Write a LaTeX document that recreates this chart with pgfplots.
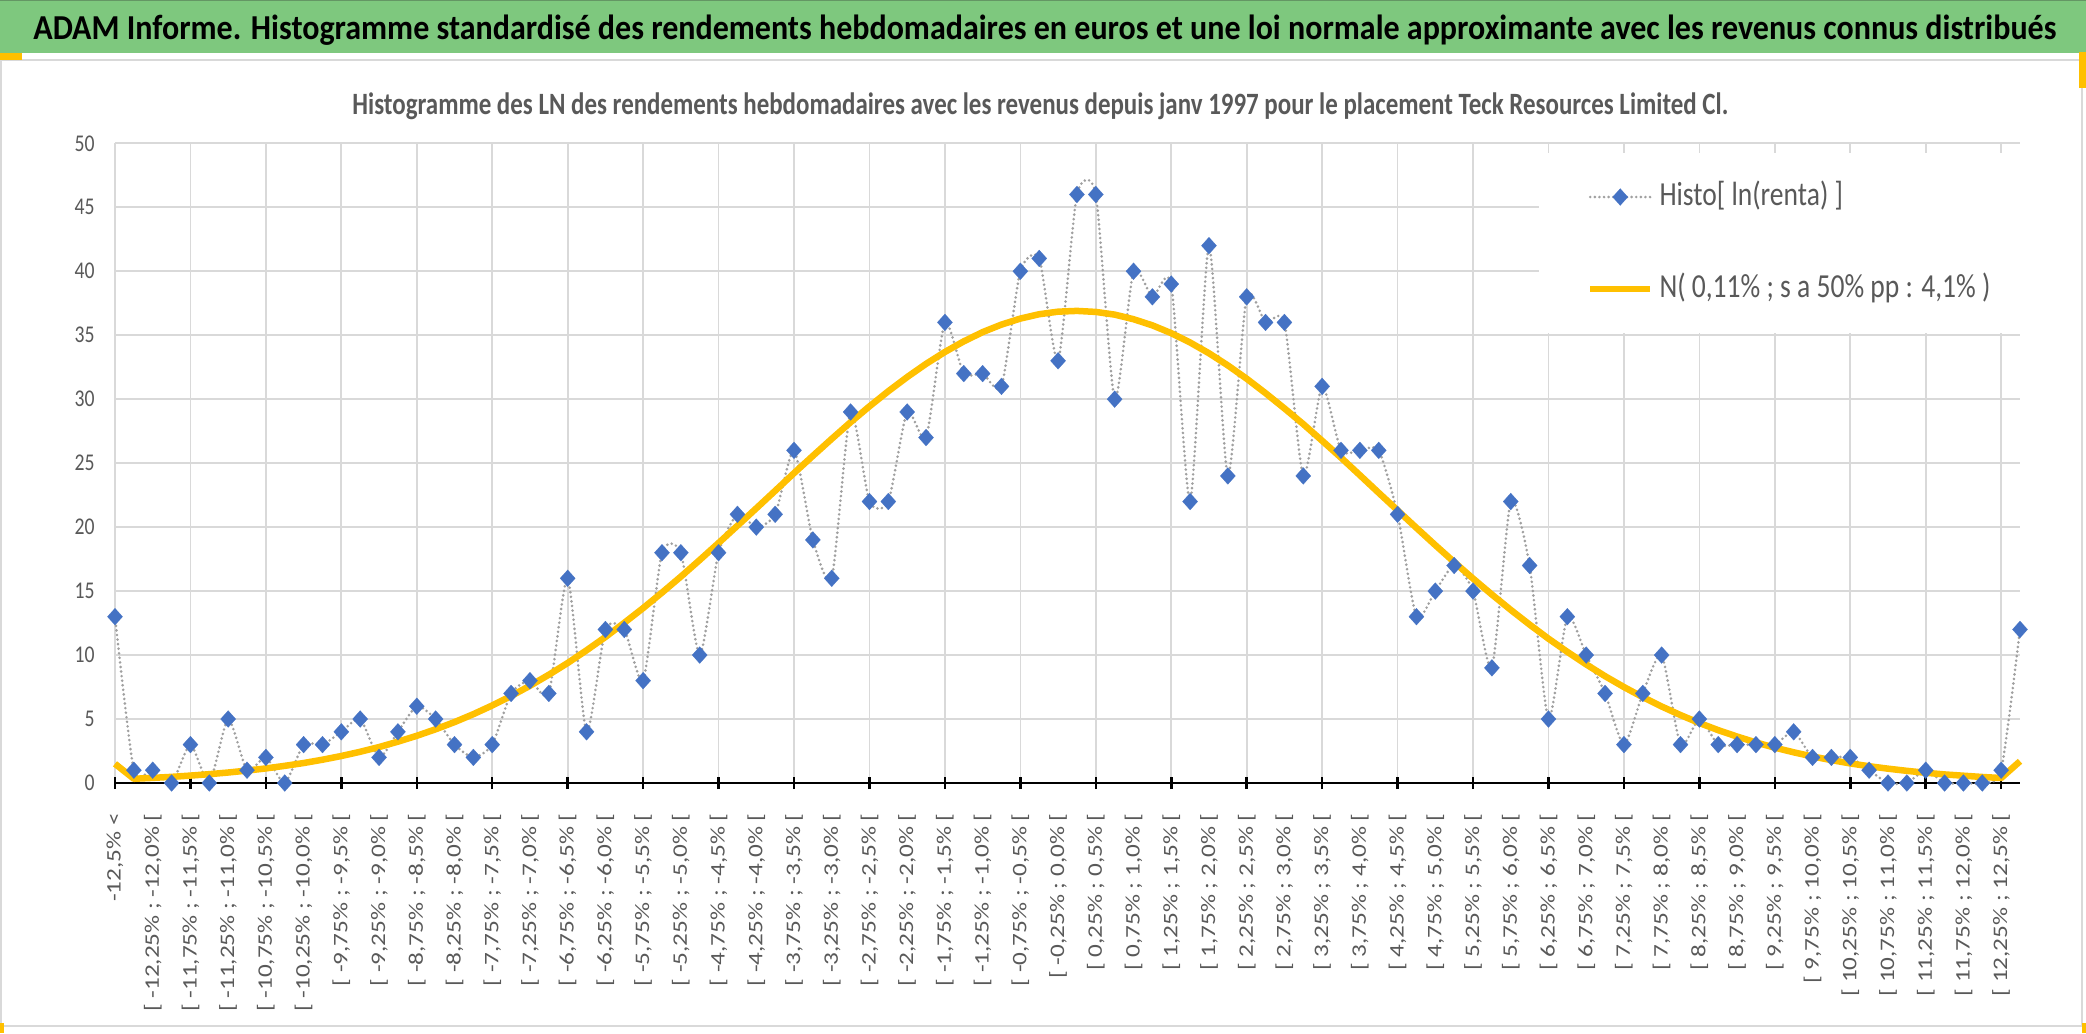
\documentclass[border=0pt]{standalone}
\usepackage{pgfplots}
\pgfplotsset{compat=1.18}
\usepackage{pgfplotstable}
\usepackage{graphicx}
\usepackage{fontspec}
\setmainfont{Carlito}
\definecolor{tgray}{HTML}{595959}
\definecolor{gridc}{HTML}{D9D9D9}
\definecolor{mblue}{HTML}{4472C4}
\definecolor{lgray}{HTML}{A0A0A0}
\definecolor{gold}{HTML}{FFC000}
\definecolor{bannergreen}{RGB}{126,200,126}
\definecolor{bannerline}{RGB}{100,150,100}
\newcommand\cx[1]{\scalebox{0.82}[1]{#1}}
\newcommand\cy[1]{\scalebox{1}[0.82]{#1}}

\pgfplotstableread{
k h n
0 13 1.5
1 1 0.33
2 1 0.40
3 0 0.48
4 3 0.58
5 0 0.69
6 5 0.82
7 1 0.97
8 2 1.14
9 0 1.34
10 3 1.56
11 3 1.82
12 4 2.11
13 5 2.44
14 2 2.81
15 4 3.23
16 6 3.69
17 5 4.20
18 3 4.76
19 2 5.38
20 3 6.06
21 7 6.80
22 8 7.60
23 7 8.46
24 16 9.38
25 4 10.37
26 12 11.41
27 12 12.52
28 8 13.67
29 18 14.88
30 18 16.13
31 10 17.43
32 18 18.76
33 21 20.11
34 20 21.47
35 21 22.84
36 26 24.22
37 19 25.57
38 16 26.90
39 29 28.20
40 22 29.44
41 22 30.62
42 29 31.73
43 27 32.76
44 36 33.69
45 32 34.52
46 32 35.24
47 31 35.83
48 40 36.30
49 41 36.64
50 33 36.84
51 46 36.90
52 46 36.82
53 30 36.61
54 40 36.25
55 38 35.77
56 39 35.16
57 22 34.43
58 42 33.59
59 24 32.64
60 38 31.60
61 36 30.47
62 36 29.28
63 24 28.05
64 31 26.75
65 26 25.43
66 26 24.06
67 26 22.68
68 21 21.31
69 13 19.94
70 15 18.59
71 17 17.27
72 15 15.98
73 9 14.73
74 22 13.53
75 17 12.38
76 5 11.28
77 13 10.25
78 10 9.27
79 7 8.35
80 3 7.50
81 7 6.71
82 10 5.98
83 3 5.31
84 5 4.69
85 3 4.13
86 3 3.63
87 3 3.17
88 3 2.76
89 4 2.40
90 2 2.07
91 2 1.79
92 2 1.53
93 1 1.31
94 0 1.12
95 0 0.95
96 1 0.80
97 0 0.67
98 0 0.57
99 0 0.47
100 1 0.39
101 12 1.7
}\datatable

\begin{document}
\begin{tikzpicture}[x=0.5pt,y=0.5pt]
\useasboundingbox (0,0) rectangle (2086,1033);
\fill[white] (0,0) rectangle (2086,1033);
\coordinate (axisorigin) at (115,250);
% chart frame
\draw[gridc, line width=1pt] (1,7) rectangle (2082,973);
% banner
\fill[bannergreen] (0,980) rectangle (2086,1033);
\draw[bannerline, line width=0.8pt] (0,1032.6) -- (2086,1032.6);
% selection handles
\fill[gold] (0,973) rectangle (22,980);
\fill[gold] (2079,945) rectangle (2086,981);
\fill[gold] (0,0) rectangle (4,10);
\fill[gold] (2082,0) rectangle (2086,10);
% title
\node[anchor=base west, inner sep=0pt, text=black] at (33,993.7)
  {\resizebox{1011.5pt}{\height}{\fontsize{17.5pt}{17.5pt}\selectfont\bfseries ADAM Informe. Histogramme standardisé des rendements hebdomadaires en euros et une loi normale approximante avec les revenus connus distribués}};
% subtitle
\node[anchor=base west, inner sep=0pt, text=tgray] at (352,918)
  {\resizebox{688pt}{\height}{\fontsize{15.5pt}{15.5pt}\selectfont\bfseries Histogramme des LN des rendements hebdomadaires avec les revenus depuis janv 1997 pour le placement Teck Resources Limited Cl.}};

\begin{axis}[
  at={(axisorigin)}, anchor=south west,
  scale only axis, width=952.5pt, height=319.85pt,
  xmin=0, xmax=101, ymin=0, ymax=50,
  clip=false,
  axis x line*=bottom, axis y line*=left,
  x axis line style={black, line width=1.25pt, -},
  y axis line style={draw=none},
  major tick length=0pt,
  ytick={0,5,...,50},
  yticklabels={\cx{0},\cx{5},\cx{10},\cx{15},\cx{20},\cx{25},\cx{30},\cx{35},\cx{40},\cx{45},\cx{50}},
  yticklabel style={anchor=east, inner sep=0pt, text=tgray, font=\fontsize{12pt}{12pt}\selectfont},
  yticklabel shift=10pt,
  ymajorgrids,
  major grid style={gridc, line width=0.85pt},
  xtick={0,2,...,100},
  xticklabels={
   {\cy{-12,5\% <}},
   {\cy{[ -12,25\% ; -12,0\% [}},
   {\cy{[ -11,75\% ; -11,5\% [}},
   {\cy{[ -11,25\% ; -11,0\% [}},
   {\cy{[ -10,75\% ; -10,5\% [}},
   {\cy{[ -10,25\% ; -10,0\% [}},
   {\cy{[ -9,75\% ; -9,5\% [}},
   {\cy{[ -9,25\% ; -9,0\% [}},
   {\cy{[ -8,75\% ; -8,5\% [}},
   {\cy{[ -8,25\% ; -8,0\% [}},
   {\cy{[ -7,75\% ; -7,5\% [}},
   {\cy{[ -7,25\% ; -7,0\% [}},
   {\cy{[ -6,75\% ; -6,5\% [}},
   {\cy{[ -6,25\% ; -6,0\% [}},
   {\cy{[ -5,75\% ; -5,5\% [}},
   {\cy{[ -5,25\% ; -5,0\% [}},
   {\cy{[ -4,75\% ; -4,5\% [}},
   {\cy{[ -4,25\% ; -4,0\% [}},
   {\cy{[ -3,75\% ; -3,5\% [}},
   {\cy{[ -3,25\% ; -3,0\% [}},
   {\cy{[ -2,75\% ; -2,5\% [}},
   {\cy{[ -2,25\% ; -2,0\% [}},
   {\cy{[ -1,75\% ; -1,5\% [}},
   {\cy{[ -1,25\% ; -1,0\% [}},
   {\cy{[ -0,75\% ; -0,5\% [}},
   {\cy{[ -0,25\% ; 0,0\% [}},
   {\cy{[ 0,25\% ; 0,5\% [}},
   {\cy{[ 0,75\% ; 1,0\% [}},
   {\cy{[ 1,25\% ; 1,5\% [}},
   {\cy{[ 1,75\% ; 2,0\% [}},
   {\cy{[ 2,25\% ; 2,5\% [}},
   {\cy{[ 2,75\% ; 3,0\% [}},
   {\cy{[ 3,25\% ; 3,5\% [}},
   {\cy{[ 3,75\% ; 4,0\% [}},
   {\cy{[ 4,25\% ; 4,5\% [}},
   {\cy{[ 4,75\% ; 5,0\% [}},
   {\cy{[ 5,25\% ; 5,5\% [}},
   {\cy{[ 5,75\% ; 6,0\% [}},
   {\cy{[ 6,25\% ; 6,5\% [}},
   {\cy{[ 6,75\% ; 7,0\% [}},
   {\cy{[ 7,25\% ; 7,5\% [}},
   {\cy{[ 7,75\% ; 8,0\% [}},
   {\cy{[ 8,25\% ; 8,5\% [}},
   {\cy{[ 8,75\% ; 9,0\% [}},
   {\cy{[ 9,25\% ; 9,5\% [}},
   {\cy{[ 9,75\% ; 10,0\% [}},
   {\cy{[ 10,25\% ; 10,5\% [}},
   {\cy{[ 10,75\% ; 11,0\% [}},
   {\cy{[ 11,25\% ; 11,5\% [}},
   {\cy{[ 11,75\% ; 12,0\% [}},
   {\cy{[ 12,25\% ; 12,5\% [}}
  },
  xticklabel style={rotate=90, anchor=east, inner sep=0pt, text=tgray, font=\fontsize{12.6pt}{12.6pt}\selectfont},
  xticklabel shift=15pt,
  extra x ticks={0,4,...,100},
  extra x tick labels={},
  extra x tick style={grid=major, major tick length=6pt, tick align=center, tick style={black, line width=1.25pt}},
  legend style={at={(0.7475,0.9848)}, anchor=north west, draw=none, fill=white,
    inner xsep=24pt, inner ysep=14pt, outer sep=0pt, row sep=30pt, column sep=3pt,
    nodes={inner sep=0pt, text height=12pt, text depth=4pt, text=tgray, font=\fontsize{16.8pt}{16.8pt}\selectfont}},
  legend cell align=left,
  legend image code/.code={\draw[mark repeat=2,mark phase=2,#1] plot coordinates {(0pt,0pt) (15pt,0pt) (30pt,0pt)};},
]
\addplot[lgray, line width=1.45pt, dash pattern=on 0pt off 2.3pt, line cap=round, smooth, tension=0.38,
  mark=diamond*, mark size=4.2pt, mark options={solid, xscale=1.2, fill=mblue, draw=mblue, line width=0.1pt}]
  table[x=k, y=h] {\datatable};
\addlegendentry{\cx{Histo[ ln(renta) ]}}
\addplot[gold, line width=3.25pt, line join=round, no markers]
  table[x=k, y=n] {\datatable};
\addlegendentry{\cx{N( 0,11\% ; s a 50\% pp : 4,1\% )}}
\end{axis}
\end{tikzpicture}
\end{document}
